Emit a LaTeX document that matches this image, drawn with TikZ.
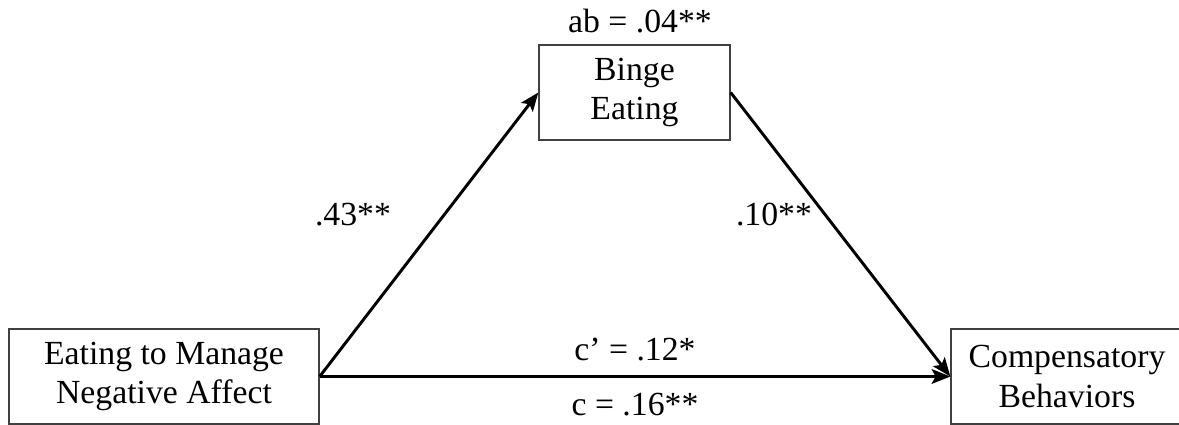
\documentclass[tikz,border=0pt]{standalone}
\usepackage{fontspec}
\setmainfont{Liberation Serif}
\usetikzlibrary{arrows.meta}
\begin{document}
\begin{tikzpicture}[x=0.75pt,y=-0.75pt,
  varbox/.style={draw=black!75,line width=1pt,rectangle,align=center,
    font=\fontsize{25.3pt}{29.5pt}\selectfont,inner sep=0pt},
  lbl/.style={font=\fontsize{25.3pt}{29.5pt}\selectfont,anchor=base,inner sep=0pt},
  conn/.style={draw=black,line width=2.2pt,-{Stealth[length=14pt,width=11pt,inset=3pt]}}]
\useasboundingbox (0,0) rectangle (1179,425);
\fill[white] (0,0) rectangle (1179,425);
\node[varbox,minimum width=310*0.75pt,minimum height=95*0.75pt] (x) at (164,376.5) {Eating to Manage\\Negative Affect};
\node[varbox,minimum width=191*0.75pt,minimum height=95*0.75pt] (m) at (634.5,92.5) {Binge\\Eating};
\node[varbox,minimum width=232*0.75pt,minimum height=95*0.75pt] (y) at (1067,376.5) {Compensatory\\Behaviors};
\draw[conn] (x.east) -- (m.west);
\draw[conn] (m.east) -- (y.west);
\draw[conn] (x.east) -- (y.west);
\node[lbl] (ab) at (640,32) {ab = .04**};
\node[lbl] (a) at (353,225) {.43**};
\node[lbl] (b) at (774,225) {.10**};
\node[lbl] (cp) at (635,360) {c’ = .12*};
\node[lbl] (c) at (635,415) {c = .16**};
\end{tikzpicture}
\end{document}
